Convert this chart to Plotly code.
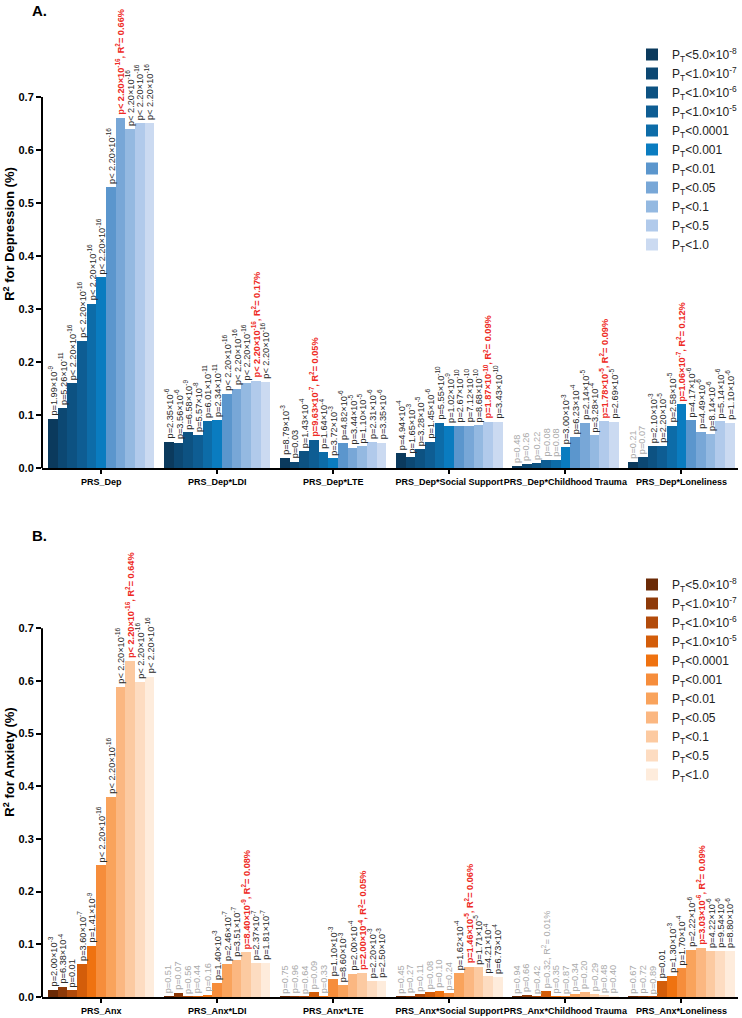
import plotly.graph_objects as go

# ---------------- data ----------------
dep_groups = ["PRS_Dep", "PRS_Dep*LDI", "PRS_Dep*LTE", "PRS_Dep*Social Support",
              "PRS_Dep*Childhood Trauma", "PRS_Dep*Loneliness"]
anx_groups = ["PRS_Anx", "PRS_Anx*LDI", "PRS_Anx*LTE", "PRS_Anx*Social Support",
              "PRS_Anx*Childhood Trauma", "PRS_Anx*Loneliness"]

thresholds = ["P<sub>T</sub><5.0×10<sup>-8</sup>", "P<sub>T</sub><1.0×10<sup>-7</sup>",
              "P<sub>T</sub><1.0×10<sup>-6</sup>", "P<sub>T</sub><1.0×10<sup>-5</sup>",
              "P<sub>T</sub><0.0001", "P<sub>T</sub><0.001", "P<sub>T</sub><0.01",
              "P<sub>T</sub><0.05", "P<sub>T</sub><0.1", "P<sub>T</sub><0.5", "P<sub>T</sub><1.0"]

blue_colors = ["#0b3a5d", "#0c4873", "#0d5282", "#0e5d93", "#0d6ca8", "#0a7cc0",
               "#5b96cd", "#78a7d7", "#94b9e1", "#b1caeb", "#cbdaf1"]
orange_colors = ["#6b2a06", "#8e3a09", "#b24b0b", "#d35d0a", "#ef7210", "#f68d3b",
                 "#f9a35c", "#fbb781", "#fccaa1", "#fddcc1", "#feecdc"]

# R2 (%) values, 11 thresholds per group
dep_prs = [0.093, 0.113, 0.16, 0.24, 0.31, 0.36, 0.53, 0.66, 0.64, 0.65, 0.65]
dep_ldi = [0.05, 0.048, 0.067, 0.062, 0.089, 0.09, 0.14, 0.15, 0.16, 0.165, 0.162]
dep_lte = [0.019, 0.012, 0.032, 0.053, 0.03, 0.018, 0.047, 0.038, 0.041, 0.049, 0.048]
dep_ss = [0.028, 0.021, 0.036, 0.05, 0.085, 0.08, 0.08, 0.08, 0.081, 0.087, 0.087]
dep_ct = [0.004, 0.007, 0.01, 0.016, 0.015, 0.04, 0.058, 0.085, 0.062, 0.088, 0.087]
dep_lon = [0.012, 0.02, 0.042, 0.042, 0.08, 0.12, 0.09, 0.068, 0.065, 0.088, 0.085]

anx_prs = [0.014, 0.019, 0.0125, 0.0625, 0.097, 0.25, 0.38, 0.588, 0.638, 0.598, 0.608]
anx_ldi = [0.001, 0.007, 0.0005, 0.001, 0.004, 0.027, 0.0625, 0.07, 0.085, 0.064, 0.064]
anx_lte = [0.0005, 0.0005, 0.0005, 0.009, 0.0005, 0.034, 0.022, 0.044, 0.046, 0.03, 0.03]
anx_ss = [0.0005, 0.001, 0.005, 0.009, 0.011, 0.0075, 0.045, 0.0575, 0.056, 0.039, 0.0375]
anx_ct = [0.0005, 0.003, 0.0005, 0.011, 0.0005, 0.0005, 0.005, 0.009, 0.006, 0.002, 0.001]
anx_lon = [0.0005, 0.0005, 0.0005, 0.03, 0.04, 0.055, 0.09, 0.093, 0.088, 0.088, 0.087]

# p-value labels
dep_prs_p = ["1.99e-9", "5.26e-11", "<2.20e-16", "<2.20e-16", "<2.20e-16", "<2.20e-16",
             "<2.20e-16", "<2.20e-16", "<2.20e-16", "<2.20e-16", "<2.20e-16"]
dep_ldi_p = ["2.35e-6", "3.56e-6", "6.58e-9", "5.57e-8", "6.01e-11", "2.34e-11",
             "<2.20e-16", "<2.20e-16", "<2.20e-16", "<2.20e-16", "<2.20e-16"]
dep_lte_p = ["8.79e-3", "0.03", "1.43e-4", "9.63e-7", "1.64e-4", "3.72e-3", "4.82e-6",
             "3.44e-5", "1.10e-5", "2.31e-6", "3.35e-6"]
dep_ss_p = ["4.94e-4", "1.65e-3", "3.28e-5", "1.45e-6", "5.55e-10", "1.02e-9", "2.67e-10",
            "7.12e-10", "8.68e-10", "1.87e-10", "3.43e-10"]
dep_ct_p = ["0.48", "0.26", "0.22", "0.08", "0.08", "3.00e-3", "6.23e-4", "2.14e-5",
            "3.28e-4", "1.78e-5", "2.69e-5"]
dep_lon_p = ["0.21", "0.07", "2.10e-3", "2.20e-5", "2.58e-5", "1.06e-7", "4.17e-6",
             "4.49e-6", "8.14e-6", "5.14e-6", "1.10e-6"]

anx_prs_p = ["2.00e-3", "6.38e-4", "0.01", "3.60e-7", "1.41e-9", "<2.20e-16", "<2.20e-16",
             "<2.20e-16", "<2.20e-16", "<2.20e-16", "<2.20e-16"]
anx_ldi_p = ["0.51", "0.07", "0.56", "0.44", "0.16", "1.40e-3", "2.46e-7", "3.51e-7",
             "8.40e-9", "2.37e-7", "1.81e-7"]
anx_lte_p = ["0.75", "0.96", "0.64", "0.09", "0.33", "1.10e-3", "8.60e-3", "2.00e-4",
             "2.00e-4", "2.20e-3", "2.50e-3"]
anx_ss_p = ["0.45", "0.27", "0.11", "0.08", "0.10", "0.24", "1.62e-4", "1.46e-5",
            "1.71e-5", "4.21e-4", "6.73e-4"]
anx_ct_p = ["0.94", "0.66", "0.42", "0.32", "0.35", "0.87", "0.34", "0.20", "0.29",
            "0.48", "0.40"]
anx_lon_p = ["0.67", "0.72", "0.89", "0.01", "1.30e-3", "1.70e-4", "2.22e-6", "3.03e-6",
             "4.22e-6", "9.54e-6", "8.80e-6"]

# best-fit threshold index and its R2 label per group
dep_best = [7, 9, 3, 9, 9, 5]
dep_best_r2 = ["0.66%", "0.17%", "0.05%", "0.09%", "0.09%", "0.12%"]
anx_best = [8, 8, 8, 7, 3, 7]
anx_best_r2 = ["0.64%", "0.08%", "0.05%", "0.06%", "0.01%", "0.09%"]

dep_values = [dep_prs, dep_ldi, dep_lte, dep_ss, dep_ct, dep_lon]
dep_pvals = [dep_prs_p, dep_ldi_p, dep_lte_p, dep_ss_p, dep_ct_p, dep_lon_p]
anx_values = [anx_prs, anx_ldi, anx_lte, anx_ss, anx_ct, anx_lon]
anx_pvals = [anx_prs_p, anx_ldi_p, anx_lte_p, anx_ss_p, anx_ct_p, anx_lon_p]

# ---------------- figure ----------------
FONT = "Arial, Liberation Sans, sans-serif"
SLOT = 12  # 11 bars + 1 gap per group

fig = go.Figure()


def fmt_p(p):
    if p.startswith("<"):
        m, e = p[1:].split("e")
        return "p< %s×10<sup>%s</sup>" % (m, e), False
    if "e" in p:
        m, e = p.split("e")
        return "p=%s×10<sup>%s</sup>" % (m, e), False
    return "p=" + p, float(p) > 0.05


def add_panel(values, pvals, best, best_r2, colors, xa, ya, legend_name):
    for t in range(11):
        fig.add_trace(go.Bar(
            x=[g * SLOT + t for g in range(6)],
            y=[values[g][t] for g in range(6)],
            width=1.0,
            marker=dict(color=colors[t], line=dict(width=0)),
            name=thresholds[t],
            xaxis=xa, yaxis=ya, legend=legend_name,
        ))
    for g in range(6):
        for t in range(11):
            txt, ns = fmt_p(pvals[g][t])
            color = "#aaaaaa" if ns else "#2a2a2a"
            weight = "normal"
            if t == best[g]:
                txt = txt + ", R<sup>2</sup>= " + best_r2[g]
                if not ns:
                    color = "#ee2a24"
                    weight = "bold"
            fig.add_annotation(
                x=g * SLOT + t, y=values[g][t], xref=xa, yref=ya,
                text=txt, textangle=-90, showarrow=False,
                xanchor="center", yanchor="bottom", yshift=1,
                font=dict(family=FONT, size=9.2, color=color, weight=weight),
            )


add_panel(dep_values, dep_pvals, dep_best, dep_best_r2, blue_colors, "x", "y", "legend")
add_panel(anx_values, anx_pvals, anx_best, anx_best_r2, orange_colors, "x2", "y2", "legend2")

xcommon = dict(
    range=[-1.12, 70.85], showline=True, linewidth=2, linecolor="black",
    ticks="outside", ticklen=4, tickwidth=2, tickcolor="black",
    tickvals=[g * SLOT + 5 for g in range(6)], tickangle=0,
    showgrid=False, zeroline=False,
    tickfont=dict(family=FONT, size=9, color="black", weight="bold"),
)
ycommon = dict(
    tickvals=[0, 0.1, 0.2, 0.3, 0.4, 0.5, 0.6, 0.7],
    ticktext=["0.0", "0.1", "0.2", "0.3", "0.4", "0.5", "0.6", "0.7"],
    ticks="outside", ticklen=5, tickwidth=2, tickcolor="black",
    showline=False, showgrid=False, zeroline=False,
    tickfont=dict(family=FONT, size=11, color="black", weight="bold"),
)

fig.update_layout(
    width=742, height=1018,
    margin=dict(l=42, r=1, t=0, b=18),
    paper_bgcolor="white", plot_bgcolor="white",
    barmode="overlay", bargap=0,
    xaxis=dict(xcommon, anchor="y", ticktext=dep_groups),
    yaxis=dict(ycommon, domain=[0.532, 1.0], range=[0, 0.883], anchor="x",
               title=dict(text="R<sup>2</sup> for Depression (%)", standoff=0,
                          font=dict(family=FONT, size=13, color="black", weight="bold"))),
    xaxis2=dict(xcommon, anchor="y2", ticktext=anx_groups),
    yaxis2=dict(ycommon, domain=[0.003, 0.473], range=[0, 0.892], anchor="x2",
                title=dict(text="R<sup>2</sup> for Anxiety (%)", standoff=0,
                           font=dict(family=FONT, size=13, color="black", weight="bold"))),
    legend=dict(x=0.848, y=0.960, xanchor="left", yanchor="top",
                font=dict(family=FONT, size=12, color="#222"), bgcolor="rgba(0,0,0,0)",
                tracegroupgap=0),
    legend2=dict(x=0.848, y=0.430, xanchor="left", yanchor="top",
                 font=dict(family=FONT, size=12, color="#222"), bgcolor="rgba(0,0,0,0)",
                 tracegroupgap=0),
)

# y axis lines only from 0 to 0.7
for yr, xr in (("y", "x"), ("y2", "x2")):
    fig.add_shape(type="line", xref=xr + " domain", yref=yr, x0=0, x1=0, y0=0, y1=0.7,
                  line=dict(color="black", width=2))

fig.add_annotation(text="A.", xref="paper", yref="paper", x=-0.017, y=1.0,
                   xanchor="left", yanchor="top", showarrow=False,
                   font=dict(family=FONT, size=15, color="black", weight="bold"))
fig.add_annotation(text="B.", xref="paper", yref="paper", x=-0.017, y=0.475,
                   xanchor="left", yanchor="top", showarrow=False,
                   font=dict(family=FONT, size=15, color="black", weight="bold"))

fig.write_html("out.html", config={"displayModeBar": False},
               post_script="document.body.style.margin='0px';document.body.style.overflow='hidden';")
